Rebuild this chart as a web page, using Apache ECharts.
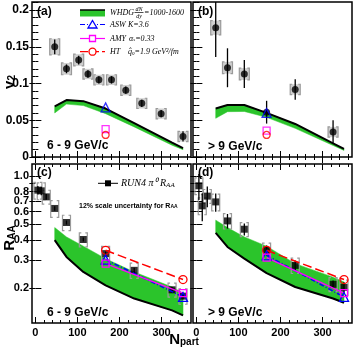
<!DOCTYPE html>
<html><head><meta charset="utf-8">
<script src="https://cdn.jsdelivr.net/npm/echarts@6/dist/echarts.min.js"></script>
<style>html,body{margin:0;padding:0;background:#fff}#c{width:359px;height:347px}</style>
</head><body><div id="c"></div>
<script>
// ---------------- data ----------------
// (a) v2, 6-9 GeV/c
const npartA = [46, 74, 103, 125, 151, 181, 215, 253, 299, 351];
const v2A = [0.150, 0.120, 0.132, 0.113, 0.105, 0.105, 0.091, 0.073, 0.059, 0.028];
const v2AStat = [0.010, 0.006, 0.006, 0.005, 0.005, 0.005, 0.005, 0.005, 0.005, 0.007];
const v2ASys = [0.011, 0.008, 0.008, 0.007, 0.007, 0.007, 0.007, 0.007, 0.007, 0.007];
// (b) v2, >9 GeV/c
const npartB = [46, 74, 114, 167, 235, 325];
const v2B = [0.176, 0.1215, 0.113, 0.061, 0.092, 0.034];
const v2BStat = [0.040, 0.0265, 0.019, 0.0155, 0.014, 0.016];
const v2BSys = [0.0097, 0.008, 0.008, 0.000, 0.007, 0.007];
// WHDG bands (dN/dy = 1000-1600)
const npartBand = [46, 74, 114, 167, 235, 325, 351];
const whdgAUp = [0.069, 0.0775, 0.076, 0.066, 0.046, 0.0195, 0.012];
const whdgALo = [0.060, 0.072, 0.070, 0.059, 0.041, 0.016, 0.010];
const whdgBUp = [0.066, 0.0707, 0.0707, 0.060, 0.045, 0.0186, 0.011];
const whdgBLo = [0.0527, 0.0617, 0.062, 0.054, 0.039, 0.0157, 0.009];
const whdgCUp = [0.477, 0.417, 0.365, 0.305, 0.252, 0.203, 0.186];
const whdgCLo = [0.398, 0.313, 0.252, 0.208, 0.172, 0.145, 0.135];
const whdgDUp = [0.531, 0.477, 0.417, 0.365, 0.284, 0.234, 0.218];
const whdgDLo = [0.442, 0.361, 0.305, 0.248, 0.203, 0.172, 0.162];
// theory points at Npart = 167 (v2) and 167/351 (RAA)
const npartTh = [167, 351];
const v2ThA = {asw: 0.0676, amy: 0.038, ht: 0.030};
const v2ThB = {asw: 0.060, amy: 0.036, ht: 0.030};
const aswC = [0.301, 0.176], amyC = [0.284, 0.186], htC = [0.344, 0.226];
const aswD = [0.320, 0.176], amyD = [0.310, 0.186], htD = [0.344, 0.226];
// (c),(d) RUN4 pi0 RAA
const npartR = [6, 14, 26, 46, 74, 114, 167, 235, 325, 351];
const raaC = [0.817, 0.809, 0.742, 0.628, 0.513, 0.402, 0.328, 0.258, 0.195, 0.178];
const raaCStat = [0.05, 0.05, 0.03, 0.02, 0.015, 0.012, 0.01, 0.01, 0.008, 0.008];
const raaD = [0.870, 0.652, 0.750, 0.690, 0.525, 0.466, 0.344, 0.277, 0.211, 0.202];
const raaDStat = [0.16, 0.13, 0.11, 0.09, 0.055, 0.04, 0.025, 0.02, 0.012, 0.015];
const raaSysRel = [0.12, 0.12, 0.10, 0.12, 0.11, 0.10, 0.11, 0.11, 0.10, 0.11];
// ticks
const xMajor = [0, 100, 200, 300];
const xMinor = [20, 40, 60, 80, 120, 140, 160, 180, 220, 240, 260, 280, 320, 340, 360];
const v2Major = [0, 0.05, 0.1, 0.15, 0.2];
const v2Minor = [0.01, 0.02, 0.03, 0.04, 0.06, 0.07, 0.08, 0.09, 0.11, 0.12, 0.13, 0.14, 0.16, 0.17, 0.18, 0.19, 0.21];
const raaTicks = [0.2, 0.3, 0.4, 0.5, 0.6, 0.7, 0.8, 0.9, 1.0];

// ---------------- layout ----------------
const SANS = 'Liberation Sans', SERIF = 'Liberation Serif';
const GREEN = '#2bc42b';
const grids = [
  {left: 32, top: 2, width: 159, height: 155},
  {left: 193, top: 2, width: 159, height: 155},
  {left: 32, top: 164, width: 159, height: 159},
  {left: 193, top: 164, width: 159, height: 159}
];
const xAxes = [], yAxes = [];
function axisSet(list, gi, dim, cfg) {
  const pos = dim === 'x' ? ['bottom', 'top'] : ['left', 'right'];
  const base = list.length;
  pos.forEach(p => {
    [['major', 6], ['minor', 3]].forEach(([kind, len]) => {
      const vals = kind === 'major' ? cfg.major : cfg.minor;
      const showLab = kind === 'major' && cfg.labels && (p === 'bottom' || p === 'left');
      list.push({
        type: cfg.type, gridIndex: gi, position: p, min: cfg.min, max: cfg.max,
        axisLine: {show: false}, splitLine: {show: false},
        axisTick: {show: vals.length > 0, inside: true, length: len, customValues: vals.length ? vals : undefined,
                   lineStyle: {color: '#000', width: 1}},
        axisLabel: {show: showLab, customValues: cfg.major, margin: dim === 'x' ? 4 : 3,
                    hideOverlap: false, showMinLabel: true, showMaxLabel: true,
                    fontFamily: SANS, fontWeight: 'bold', fontSize: cfg.fs, color: '#000',
                    formatter: cfg.fmt}
      });
    });
  });
  return base;
}
const xIdx = [], yIdx = [];
for (let gi = 0; gi < 4; gi++) {
  xIdx.push(axisSet(xAxes, gi, 'x', {type: 'value', min: -8, max: 370, major: xMajor, minor: xMinor,
    labels: gi >= 2, fs: 11, fmt: v => String(v)}));
  if (gi < 2) {
    yIdx.push(axisSet(yAxes, gi, 'y', {type: 'value', min: 0, max: 0.211, major: v2Major, minor: v2Minor,
      labels: gi === 0, fs: 12, fmt: v => (v === 0 ? '0' : String(+v.toFixed(2)))}));
  } else {
    yIdx.push(axisSet(yAxes, gi, 'y', {type: 'log', min: 0.121, max: 1.19, major: raaTicks, minor: [],
      labels: gi === 2, fs: 11, fmt: v => (+v).toFixed(1)}));
  }
}

function onGrid(gi, s) { s.xAxisIndex = xIdx[gi]; s.yAxisIndex = yIdx[gi]; s.silent = true; return s; }
function clampY(p, cs) { return Math.max(cs.y, Math.min(cs.y + cs.height, p)); }
function band(gi, xs, up, lo) {
  return onGrid(gi, {type: 'custom', z: 1, data: [[xs[0], up[0]]],
    renderItem: (params, api) => {
      const pts = [];
      xs.forEach((x, i) => pts.push(api.coord([x, up[i]])));
      for (let i = xs.length - 1; i >= 0; i--) pts.push(api.coord([xs[i], lo[i]]));
      return {type: 'polygon', shape: {points: pts}, style: {fill: GREEN, stroke: GREEN, lineWidth: 0.5}};
    }});
}
function edge(gi, xs, ys) {
  return onGrid(gi, {type: 'line', z: 3, data: xs.map((x, i) => [x, ys[i]]), symbol: 'none',
    lineStyle: {color: '#000', width: 2}});
}
function statBars(gi, xs, ys, es) {
  return onGrid(gi, {type: 'custom', z: 5, data: xs.map((x, i) => [x, ys[i], es[i]]),
    renderItem: (params, api) => {
      const cs = params.coordSys;
      const x = api.value(0), y = api.value(1), e = api.value(2);
      const a = api.coord([x, y - e]), b = api.coord([x, y + e]);
      return {type: 'line', shape: {x1: a[0], y1: clampY(a[1], cs), x2: b[0], y2: clampY(b[1], cs)},
              style: {stroke: '#000', lineWidth: 1.3}};
    }});
}
function sysBoxes(gi, xs, lo, hi, filled) {
  return onGrid(gi, {type: 'custom', z: 4, data: xs.map((x, i) => [x, lo[i], hi[i]]),
    renderItem: (params, api) => {
      const x = api.value(0), l = api.value(1), h = api.value(2);
      if (h - l <= 0) return null;
      const a = api.coord([x, l]), b = api.coord([x, h]);
      const w = filled ? 5 : 4, k = 2;
      const x0 = a[0] - w, x1 = a[0] + w, yb = a[1], yt = b[1];
      const kids = [];
      if (filled) kids.push({type: 'rect', shape: {x: x0, y: yt, width: 2 * w, height: yb - yt},
                             style: {fill: '#cfcfcf', stroke: null}});
      kids.push({type: 'polyline', shape: {points: [[x0 + k, yt], [x0, yt], [x0, yb], [x0 + k, yb]]},
                 style: {stroke: '#9a9a9a', lineWidth: 1.2, fill: null}});
      kids.push({type: 'polyline', shape: {points: [[x1 - k, yt], [x1, yt], [x1, yb], [x1 - k, yb]]},
                 style: {stroke: '#9a9a9a', lineWidth: 1.2, fill: null}});
      return {type: 'group', children: kids};
    }});
}
function points(gi, xs, ys, symbol, size) {
  return onGrid(gi, {type: 'scatter', z: 6, data: xs.map((x, i) => [x, ys[i]]), symbol: symbol, symbolSize: size,
    itemStyle: {color: '#000'}});
}
function openMark(gi, xs, ys, symbol, size, color, line) {
  const s = {type: line ? 'line' : 'scatter', z: 7, data: xs.map((x, i) => [x, ys[i]]), symbol: symbol,
    symbolSize: size, itemStyle: {color: 'rgba(255,255,255,0)', borderColor: color, borderWidth: 1.3}};
  if (line) { s.showAllSymbol = true; s.lineStyle = Object.assign({color: color, width: 1.5}, line); }
  return onGrid(gi, s);
}

const series = [];
// (a)
series.push(band(0, npartBand, whdgAUp, whdgALo), edge(0, npartBand, whdgAUp));
series.push(sysBoxes(0, npartA, v2A.map((v, i) => v - v2ASys[i]), v2A.map((v, i) => v + v2ASys[i]), true));
series.push(statBars(0, npartA, v2A, v2AStat), points(0, npartA, v2A, 'circle', 7));
series.push(openMark(0, [167], [v2ThA.asw], 'triangle', 9, '#0000ff'));
series.push(openMark(0, [167], [v2ThA.amy], 'rect', 7, '#ff00ff'));
series.push(openMark(0, [167], [v2ThA.ht], 'circle', 7, '#ff0000'));
// (b)
series.push(band(1, npartBand, whdgBUp, whdgBLo), edge(1, npartBand, whdgBUp));
series.push(sysBoxes(1, npartB, v2B.map((v, i) => v - v2BSys[i]), v2B.map((v, i) => v + v2BSys[i]), true));
series.push(statBars(1, npartB, v2B, v2BStat), points(1, npartB, v2B, 'circle', 7));
series.push(openMark(1, [167], [v2ThB.asw], 'triangle', 9, '#0000ff'));
series.push(openMark(1, [167], [v2ThB.amy], 'rect', 7, '#ff00ff'));
series.push(openMark(1, [167], [v2ThB.ht], 'circle', 7, '#ff0000'));
// (c)
series.push(band(2, npartBand, whdgCUp, whdgCLo), edge(2, npartBand, whdgCLo));
series.push(sysBoxes(2, npartR, raaC.map((v, i) => v * (1 - raaSysRel[i])), raaC.map((v, i) => v * (1 + raaSysRel[i])), false));
series.push(statBars(2, npartR, raaC, raaCStat), points(2, npartR, raaC, 'rect', 7));
series.push(openMark(2, npartTh, htC, 'circle', 8, '#ff0000', {type: [9, 4]}));
series.push(openMark(2, npartTh, aswC, 'triangle', 9, '#0000ff', {type: [5, 2, 1, 2]}));
series.push(openMark(2, npartTh, amyC, 'rect', 7, '#ff00ff', {type: 'solid'}));
// (d)
series.push(band(3, npartBand, whdgDUp, whdgDLo), edge(3, npartBand, whdgDLo));
series.push(sysBoxes(3, npartR, raaD.map((v, i) => v * (1 - raaSysRel[i])), raaD.map((v, i) => v * (1 + raaSysRel[i])), false));
series.push(statBars(3, npartR, raaD, raaDStat), points(3, npartR, raaD, 'rect', 7));
series.push(openMark(3, npartTh, htD, 'circle', 8, '#ff0000', {type: [9, 4]}));
series.push(openMark(3, npartTh, aswD, 'triangle', 9, '#0000ff', {type: [5, 2, 1, 2]}));
series.push(openMark(3, npartTh, amyD, 'rect', 7, '#ff00ff', {type: 'solid'}));

// ---------------- texts / legends ----------------
function txt(x, y, text, opt) {
  return Object.assign({type: 'text', x: x, y: y, z: 100, silent: true,
    style: Object.assign({text: text, fill: '#000', fontFamily: SANS, fontSize: 12, fontWeight: 'bold',
                          align: 'left', verticalAlign: 'middle'}, opt || {})});
}
const subRich = (fs, ff, fw, style) => ({
  m: {fontSize: fs, fontFamily: ff, fontWeight: fw, fontStyle: style, lineHeight: fs, padding: [0, 0, Math.round(fs * 0.3), 0], verticalAlign: 'top'},
  s: {fontSize: Math.round(fs * 0.65), fontFamily: ff, fontWeight: fw, fontStyle: style, lineHeight: Math.round(fs * 0.65), verticalAlign: 'bottom'}
});
const it = {fontFamily: SERIF, fontStyle: 'italic', fontWeight: 'normal', fontSize: 8};
const graphics = [
  txt(37, 12, '(a)'), txt(198, 12, '(b)'), txt(37, 173, '(c)'), txt(198, 173, '(d)'),
  txt(47, 146, '6 - 9 GeV/c'), txt(208, 147, '> 9 GeV/c'),
  txt(47, 313, '6 - 9 GeV/c'), txt(208, 313, '> 9 GeV/c'),
  Object.assign(txt(10, 82, '{m|v}{s|2}', {align: 'center', rich: subRich(15, SANS, 'bold', 'normal')}), {rotation: Math.PI / 2}),
  Object.assign(txt(10, 238, '{m|R}{s|AA}', {align: 'center', rich: subRich(15, SANS, 'bold', 'normal')}), {rotation: Math.PI / 2}),
  txt(184, 340, '{m|N}{s|part}', {align: 'center', rich: subRich(15, SANS, 'bold', 'normal')}),
  // legend (a)
  {type: 'rect', z: 100, shape: {x: 80, y: 10, width: 25, height: 6.5}, style: {fill: GREEN}},
  {type: 'line', z: 101, shape: {x1: 80, y1: 10, x2: 105, y2: 10}, style: {stroke: '#000', lineWidth: 1.5}},
  txt(110, 13, 'WHDG', it),
  txt(139, 9.5, 'dN', Object.assign({}, it, {fontSize: 6, align: 'center'})),
  {type: 'line', z: 101, shape: {x1: 134.5, y1: 12.5, x2: 143.5, y2: 12.5}, style: {stroke: '#000', lineWidth: 0.7}},
  txt(139, 16, 'dy', Object.assign({}, it, {fontSize: 6, align: 'center'})),
  txt(144, 13, '=1000-1600', it),
  {type: 'line', z: 100, shape: {x1: 80, y1: 24.5, x2: 105, y2: 24.5}, style: {stroke: '#0000ff', lineWidth: 1.2, lineDash: [5, 2, 1, 2]}},
  {type: 'polygon', z: 101, shape: {points: [[92.5, 20.5], [97, 28], [88, 28]]}, style: {fill: '#fff', stroke: '#0000ff', lineWidth: 1.3}},
  txt(110, 24.5, 'ASW', it), txt(128, 24.5, 'K=3.6', it),
  {type: 'line', z: 100, shape: {x1: 80, y1: 38.5, x2: 105, y2: 38.5}, style: {stroke: '#ff00ff', lineWidth: 1.2}},
  {type: 'rect', z: 101, shape: {x: 89.5, y: 35.5, width: 6, height: 6}, style: {fill: '#fff', stroke: '#ff00ff', lineWidth: 1.3}},
  txt(110, 38.5, 'AMY', it),
  txt(129, 38.5, '{m|\u03b1}{s|s}{m|=0.33}', Object.assign({}, it, {rich: subRich(8, SERIF, 'normal', 'italic')})),
  {type: 'line', z: 100, shape: {x1: 80, y1: 51.7, x2: 105, y2: 51.7}, style: {stroke: '#ff0000', lineWidth: 1.2, lineDash: [8, 3]}},
  {type: 'circle', z: 101, shape: {cx: 92.5, cy: 51.7, r: 3.5}, style: {fill: '#fff', stroke: '#ff0000', lineWidth: 1.3}},
  txt(110, 51.7, 'HT', it),
  txt(128, 51.7, '{m|q\u0302}{s|0}{m|=1.9 GeV\u00b2/fm}', Object.assign({}, it, {rich: subRich(8, SERIF, 'normal', 'italic')})),
  // legend (c)
  {type: 'line', z: 100, shape: {x1: 98, y1: 183.3, x2: 118, y2: 183.3}, style: {stroke: '#000', lineWidth: 1}},
  {type: 'rect', z: 101, shape: {x: 105, y: 180.3, width: 6, height: 6}, style: {fill: '#000'}},
  txt(121, 183.5, '{m|RUN4 \u03c0\u2070 R}{s|AA}', Object.assign({}, it, {fontSize: 10, rich: subRich(10, SERIF, 'normal', 'italic')})),
  txt(79, 206, '{m|12% scale uncertainty for R}{s|AA}', {fontSize: 7, rich: subRich(7, SANS, 'bold', 'normal')})
];

const chart = echarts.init(document.getElementById('c'), null, {renderer: 'canvas'});
chart.setOption({
  animation: false,
  backgroundColor: '#fff',
  grid: grids.map(g => Object.assign({show: true, borderColor: '#000', borderWidth: 1.5, backgroundColor: 'rgba(0,0,0,0)', containLabel: false}, g)),
  xAxis: xAxes,
  yAxis: yAxes,
  series: series,
  graphic: graphics
});
</script>
</body></html>
